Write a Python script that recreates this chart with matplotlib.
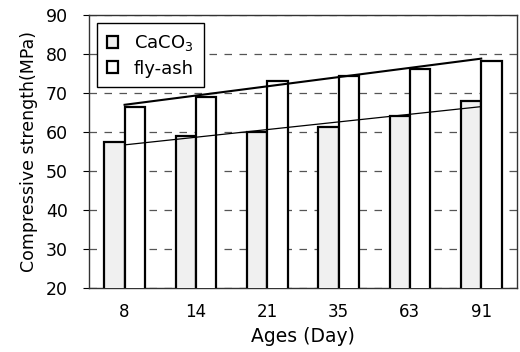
import numpy as np
from matplotlib import pyplot as plt

ages = ['8', '14', '21', '35', '63', '91']
caco3 = [57.5, 59.0, 60.0, 61.2, 64.0, 68.0]
flyash = [66.3, 69.0, 73.2, 74.5, 76.2, 78.3]

plt.rcParams['font.family'] = ['DejaVu Sans']

fig = plt.figure(figsize=(5.2, 3.52), dpi=100)
ax = fig.add_axes([0.171, 0.182, 0.823, 0.775])

x = np.arange(len(ages))
w = 0.285
ax.bar(x - w/2, caco3, w, color='#f0f0f0', edgecolor='black',
       linewidth=1.6, label='CaCO$_3$', zorder=3)
ax.bar(x + w/2, flyash, w, color='white', edgecolor='black',
       linewidth=1.6, label='fly-ash', zorder=3)

# linear trend lines
for vals, lw in [(flyash, 1.5), (caco3, 0.9)]:
    k, b = np.polyfit(x, vals, 1)
    ax.plot([x[0], x[-1]], [b, k * x[-1] + b], color='black', lw=lw, zorder=4)

ax.set_ylim(20, 90)
ax.set_xlim(-0.5, 5.5)
ax.set_yticks(range(20, 91, 10))
ax.set_xticks(x)
ax.set_xticklabels(ages)
ax.tick_params(axis='y', labelsize=12.5, length=4, pad=11, direction='out')
ax.tick_params(axis='x', labelsize=12, length=0, pad=11)
ax.yaxis.grid(True, linestyle=(0, (6, 6)), color='#555555', lw=0.9, zorder=0)
for s in ax.spines.values():
    s.set_linewidth(1.0)
    s.set_color('#333333')

ax.set_xlabel('Ages (Day)', fontsize=13.5, labelpad=4)
ax.set_ylabel('Compressive strength(MPa)', fontsize=12.5, labelpad=6)

leg = ax.legend(loc='upper left', bbox_to_anchor=(0.0, 1.0), fontsize=13,
                fancybox=False, framealpha=1, edgecolor='black',
                handlelength=0.6, handleheight=0.6, handletextpad=0.9,
                borderpad=0.55, labelspacing=0.35, borderaxespad=0.45)
leg.get_frame().set_linewidth(1.0)
leg.set_zorder(5)

fig.savefig('out.png', dpi=100)
